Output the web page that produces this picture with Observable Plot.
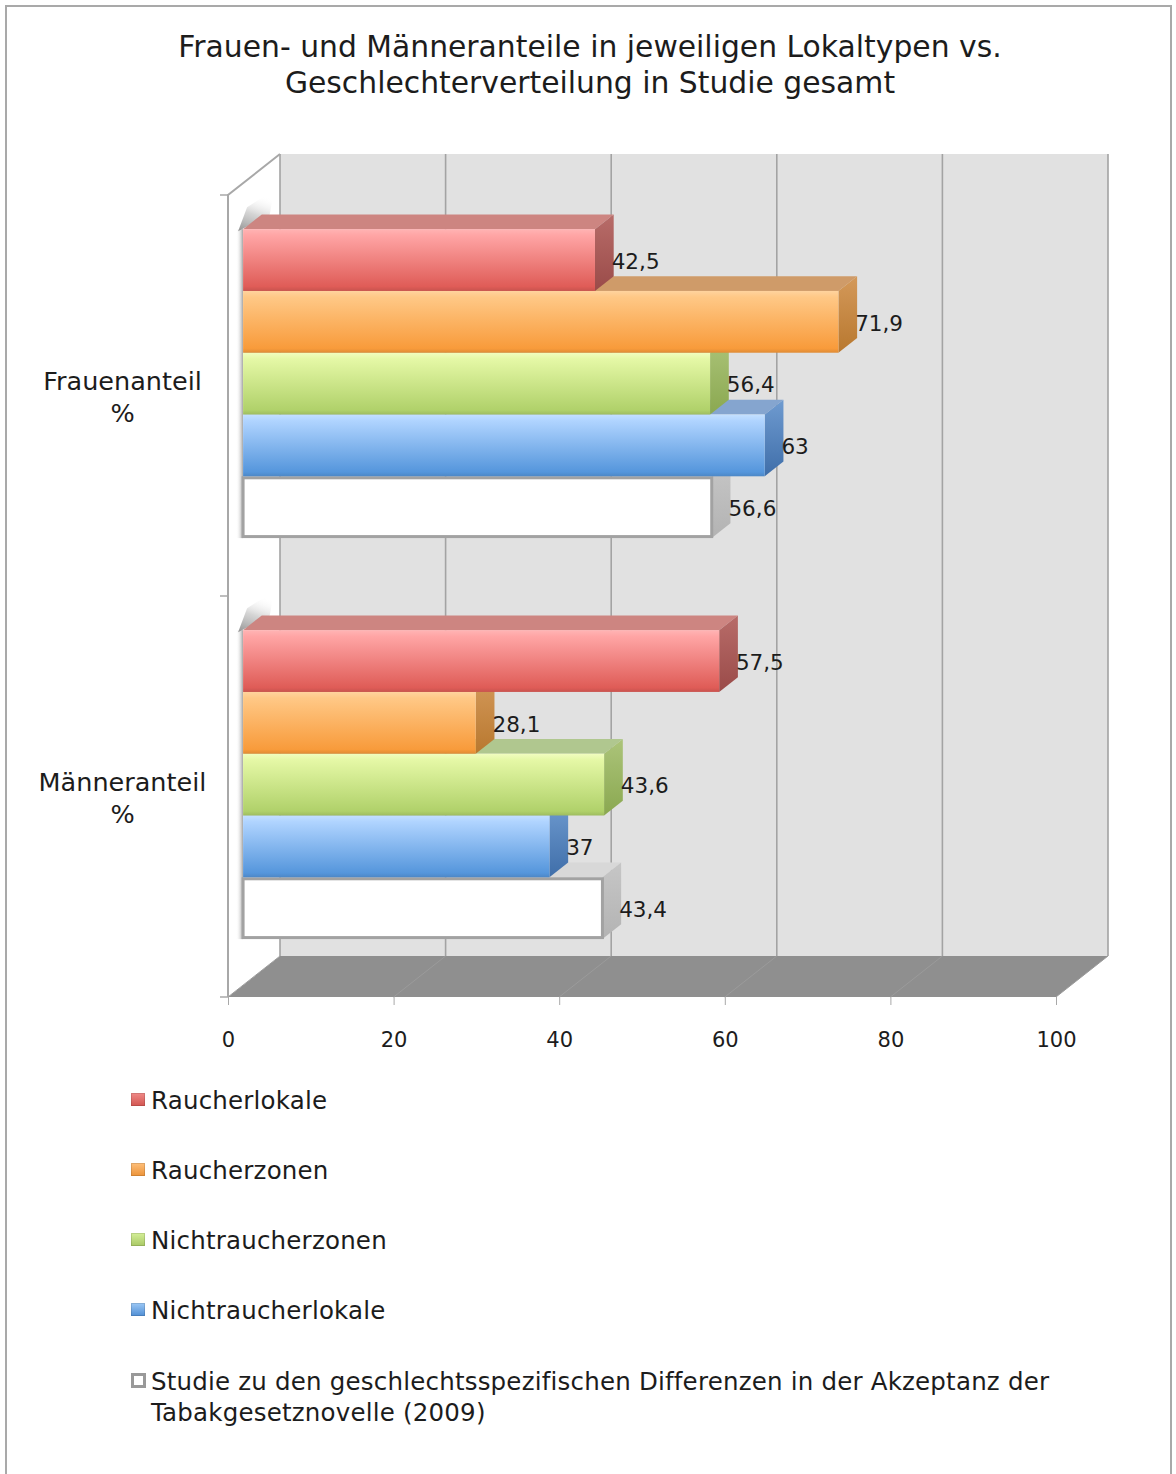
<!DOCTYPE html>
<html><head><meta charset="utf-8">
<script src="https://cdn.jsdelivr.net/npm/d3@7"></script>
<script src="https://cdn.jsdelivr.net/npm/@observablehq/plot@0.6"></script>
<style>
html,body{margin:0;padding:0;background:#fff;}
body{width:1176px;height:1474px;overflow:hidden;position:relative;font-family:"DejaVu Sans",sans-serif;color:#1c1c1c;}
#frame{position:absolute;left:5px;top:5px;width:1167px;height:1520px;border:2px solid #a9a9a9;box-sizing:border-box;}
#title{position:absolute;left:0;top:29px;width:1180px;text-align:center;font-size:29.8px;line-height:36px;}
#chart{position:absolute;left:0;top:0;}
.item{position:absolute;left:151px;font-size:24.5px;line-height:31px;white-space:pre;letter-spacing:0.2px;}
.sw{position:absolute;left:131px;width:14px;height:13px;box-sizing:border-box;}
</style></head><body>
<div id="frame"></div>
<div id="title">Frauen- und Männeranteile in jeweiligen Lokaltypen vs.<br>Geschlechterverteilung in Studie gesamt</div>
<div id="chart"></div>
<div id="legend"></div>
<script>
// ---- data ----
const categories = ["Frauenanteil\n%", "Männeranteil\n%"];
const seriesNames = ["Raucherlokale", "Raucherzonen", "Nichtraucherzonen", "Nichtraucherlokale",
  "Studie zu den geschlechtsspezifischen Differenzen in der Akzeptanz der\nTabakgesetznovelle (2009)"];
const frauenValues = [42.5, 71.9, 56.4, 63, 56.6];
const maennerValues = [57.5, 28.1, 43.6, 37, 43.4];
const xTicks = [0, 20, 40, 60, 80, 100];

// ---- styles ----
const frontStops = [
  ["#ffb4b4", "#ffa5a5", "#df5c57"],
  ["#ffd39e", "#ffc886", "#f89b3b"],
  ["#f1fdc0", "#e5f8a6", "#b0d16a"],
  ["#c4e0ff", "#b0d4ff", "#5596dc"],
  null
];
const topColors = ["#cd8581", "#cf9b69", "#b0c78f", "#85a5cf", "#d8d8d8"];
const sideStops = [["#b86c69", "#9a4b49"], ["#d4995a", "#b8782f"], ["#acc47a", "#8aa850"], ["#6f9bd0", "#3f6ea9"], ["#c6c6c6", "#b3b3b3"]];
const legendBg = [
  "linear-gradient(#f08a88,#d25550)", "linear-gradient(#ffc07a,#eb9238)",
  "linear-gradient(#d5ef98,#a8c864)", "linear-gradient(#9cc8f6,#4f8ed4)", "#fff"
];

const rows = categories.flatMap((c, i) =>
  seriesNames.map((s, j) => ({category: c, series: s, si: j, value: [frauenValues, maennerValues][i][j]})));

const fmt = v => String(v).replace(".", ",");

function scene(index, scales) {
  const sx = scales.x, sy = scales.y, bw = sy.bandwidth();
  const D = [52, -41];
  const fF = 0.29, fB = 0.36;
  const F = [D[0] * fF, D[1] * fF], B = [D[0] * fB, D[1] * fB];
  const x0 = sx(0), x100 = sx(100);
  const yTop = sy(categories[0]), yBot = sy(categories[categories.length - 1]) + bw;
  const P = pts => "M" + pts.map(p => p.join(",")).join("L") + "Z";
  const g = d3.create("svg:g");
  const defs = g.append("defs");
  frontStops.forEach((st, j) => {
    if (!st) return;
    const lg = defs.append("linearGradient").attr("id", "front" + j).attr("x1", 0).attr("y1", 0).attr("x2", 0).attr("y2", 1);
    lg.append("stop").attr("offset", 0).attr("stop-color", st[0]);
    lg.append("stop").attr("offset", 0.1).attr("stop-color", st[1]);
    lg.append("stop").attr("offset", 0.93).attr("stop-color", st[2]);
    lg.append("stop").attr("offset", 1).attr("stop-color", d3.color(st[2]).darker(0.3));
  });
  sideStops.forEach((st, j) => {
    const lg = defs.append("linearGradient").attr("id", "side" + j).attr("x1", 0).attr("y1", 0).attr("x2", 0).attr("y2", 1);
    lg.append("stop").attr("offset", 0).attr("stop-color", st[0]);
    lg.append("stop").attr("offset", 1).attr("stop-color", st[1]);
  });
  const sh = defs.append("linearGradient").attr("id", "shadowH").attr("x1", 1).attr("y1", 0).attr("x2", 0).attr("y2", 0);
  sh.append("stop").attr("offset", 0).attr("stop-color", "#999").attr("stop-opacity", 0.9);
  sh.append("stop").attr("offset", 1).attr("stop-color", "#fff").attr("stop-opacity", 0);
  const sv = defs.append("linearGradient").attr("id", "shadowV").attr("x1", 0).attr("y1", 1).attr("x2", 0.3).attr("y2", 0);
  sv.append("stop").attr("offset", 0).attr("stop-color", "#8c8c8c").attr("stop-opacity", 0.95);
  sv.append("stop").attr("offset", 0.5).attr("stop-color", "#b8b8b8").attr("stop-opacity", 0.6);
  sv.append("stop").attr("offset", 1).attr("stop-color", "#fff").attr("stop-opacity", 0);

  // floor
  g.append("path").attr("d", P([[x0, yBot], [x100, yBot], [x100 + D[0], yBot + D[1]], [x0 + D[0], yBot + D[1]]])).attr("fill", "#8f8f8f");
  // back wall
  g.append("rect").attr("x", x0 + D[0]).attr("y", yTop + D[1]).attr("width", x100 - x0).attr("height", yBot - yTop).attr("fill", "#e1e1e1");
  // left wall
  g.append("path").attr("d", P([[x0, yTop], [x0 + D[0], yTop + D[1]], [x0 + D[0], yBot + D[1]], [x0, yBot]])).attr("fill", "#fff");
  // gridlines
  for (const v of xTicks) {
    g.append("line").attr("x1", sx(v) + D[0]).attr("x2", sx(v) + D[0]).attr("y1", yTop + D[1]).attr("y2", yBot + D[1])
      .attr("stroke", "#a3a3a3").attr("stroke-width", 1.6);
    g.append("line").attr("x1", sx(v)).attr("x2", sx(v) + D[0]).attr("y1", yBot).attr("y2", yBot + D[1])
      .attr("stroke", "#9b9b9b").attr("stroke-width", 1);
  }
  // left wall outline
  g.append("path").attr("d", `M${x0},${yBot}L${x0},${yTop}L${x0 + D[0]},${yTop + D[1]}`).attr("fill", "none")
    .attr("stroke", "#a8a8a8").attr("stroke-width", 2);
  // y ticks at band edges
  const edges = categories.map(c => sy(c)).concat([yBot]);
  for (const e of edges) g.append("line").attr("x1", x0 - 8).attr("x2", x0).attr("y1", e).attr("y2", e).attr("stroke", "#a8a8a8").attr("stroke-width", 1.5);

  const labels = [];
  categories.forEach(c => {
    const sub = d3.scaleBand(seriesNames, [sy(c), sy(c) + bw]).paddingInner(0).paddingOuter(0.745);
    const step = sub.bandwidth();
    const groupRows = rows.filter(r => r.category === c);
    // soft shadow of the bar stack on the left wall
    const xa0 = x0 + F[0];
    const gTop = sub(seriesNames[0]) + F[1], gBot = sub(seriesNames[seriesNames.length - 1]) + step + F[1];
    g.append("rect").attr("x", xa0 - 7).attr("y", gTop).attr("width", 7).attr("height", gBot - gTop).attr("fill", "url(#shadowH)");
    g.append("path").attr("d", P([[xa0 - 5, gTop + 2], [xa0 + B[0] + 8, gTop + B[1]], [xa0 + B[0] + 12, gTop + B[1] - 24], [xa0 + 4, gTop - 22]]))
      .attr("fill", "url(#shadowV)");
    for (const r of groupRows.slice().reverse()) {
      const j = r.si;
      const xa = x0 + F[0], xb = sx(r.value) + F[0];
      const yt = sub(r.series) + F[1], yb = yt + step;
      g.append("path").attr("d", P([[xa, yt], [xb, yt], [xb + B[0], yt + B[1]], [xa + B[0], yt + B[1]]])).attr("fill", topColors[j]);
      g.append("path").attr("d", P([[xb, yt], [xb + B[0], yt + B[1]], [xb + B[0], yb + B[1]], [xb, yb]])).attr("fill", `url(#side${j})`);
      if (frontStops[j]) {
        g.append("rect").attr("x", xa).attr("y", yt).attr("width", xb - xa).attr("height", step).attr("fill", `url(#front${j})`);
      } else {
        g.append("rect").attr("x", xa).attr("y", yt + 1.5).attr("width", xb - xa).attr("height", step - 3)
          .attr("fill", "#fff").attr("stroke", "#a2a2a2").attr("stroke-width", 3);
      }
      labels.push({x: xb + B[0] - 2, y: yt + step / 2 + 1, t: fmt(r.value)});
    }
  });
  for (const l of labels) {
    g.append("text").attr("x", l.x).attr("y", l.y).attr("dy", "0.36em").attr("fill", "#1c1c1c")
      .attr("text-anchor", "start").attr("font-size", 21.5).text(l.t);
  }
  return g.node();
}

const plot = Plot.plot({
  width: 1176, height: 1074,
  marginLeft: 228, marginRight: 120, marginTop: 195, marginBottom: 77,
  x: {domain: [0, 100], axis: null},
  y: {type: "band", domain: categories, padding: 0, axis: null},
  style: {fontFamily: "DejaVu Sans", fontSize: "21px", background: "transparent", overflow: "visible", color: "#1c1c1c"},
  marks: [
    scene,
    Plot.axisX({ticks: xTicks, tickSize: 8, tickPadding: 27, stroke: "#a8a8a8", fill: "#1c1c1c", fontSize: 21, label: null}),
    Plot.text(categories, {y: d => d, frameAnchor: "left", dx: -106, textAnchor: "middle", fontSize: 25.5, lineHeight: 1.25, fill: "#1c1c1c"})
  ]
});
document.getElementById("chart").appendChild(plot);

// legend
const legend = document.getElementById("legend");
const legendCenters = [1100, 1170, 1240, 1310, 1381];
seriesNames.forEach((s, j) => {
  const sw = document.createElement("div");
  sw.className = "sw";
  sw.style.top = (legendCenters[j] - 7) + "px";
  sw.style.background = legendBg[j];
  if (j === 4) { sw.style.border = "3px solid #999"; sw.style.width = "15px"; sw.style.height = "15px"; sw.style.top = (legendCenters[j] - 8) + "px"; }
  else sw.style.boxShadow = "inset 0 0 0 1px rgba(0,0,0,0.12)";
  legend.appendChild(sw);
  const it = document.createElement("div");
  it.className = "item";
  it.style.top = (legendCenters[j] - 15.5) + "px";
  it.textContent = s;
  legend.appendChild(it);
});
</script>
</body></html>
